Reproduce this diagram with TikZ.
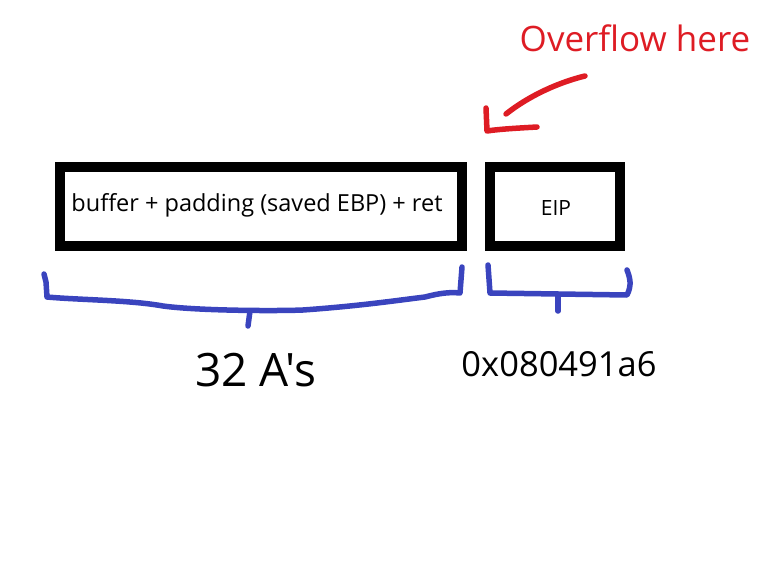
\documentclass[tikz,border=0pt]{standalone}
\usepackage{fontspec}
\setmainfont{Open Sans}[Ligatures=TeXOff]
\usetikzlibrary{positioning}
\definecolor{penblue}{RGB}{58,68,190}
\definecolor{penred}{RGB}{222,28,36}
\tikzset{
    cell/.style={draw, line width=10pt, minimum height=79pt, inner sep=0pt},
    pen/.style={line width=5.5pt, line cap=round, line join=round},
}

\begin{document}
\begin{tikzpicture}[x=1pt, y=-1pt]
    \useasboundingbox (0, 0) rectangle (778, 583);
    \node[cell, minimum width=402pt](buf)at(261, 206.5){};
    \node[cell, minimum width=130pt](eip)at(555, 206.5){};
    \node(buftext)at(257, 205){\fontsize{23.5}{27}\selectfont buffer + padding (saved EBP) + ret};
    \node(eiptext)at(556, 208){\fontsize{21}{25}\selectfont EIP};
    \node[text=penred](over)at(635, 38){\fontsize{35}{40}\selectfont Overflow here};
    \node(as)at(256, 370){\fontsize{46}{52}\selectfont 32 A's};
    \node(addr)at(559, 364){\fontsize{34.5}{40}\selectfont 0x080491a6};
    % arrow into the gap
    \coordinate(tail)at(585, 76);
    \coordinate(tip)at(487, 131);
    \draw[pen, penred](tail)..controls(560, 82)and(530, 95)..(506, 114);
    \draw[pen, penred](486, 108)--(tip)..controls(500, 129)and(520, 128)..(537, 127);
    % braces
    \draw[pen, penblue](44, 274)--(46, 282)--(47, 297)..controls(80, 300)and(130, 300)..(163, 306)
        ..controls(200, 311)and(280, 311)..(303, 310)..controls(360, 306)and(400, 300)..(425, 297)
        ..controls(440, 293)and(450, 292)..(460, 293)--(462, 267);
    \draw[pen, penblue](250, 311)--(248, 326);
    \draw[pen, penblue](488, 265)--(490, 293)--(627, 295)..controls(632, 285)and(630, 278)..(627, 270);
    \draw[pen, penblue](558, 295)--(558, 311);
\end{tikzpicture}
\end{document}
